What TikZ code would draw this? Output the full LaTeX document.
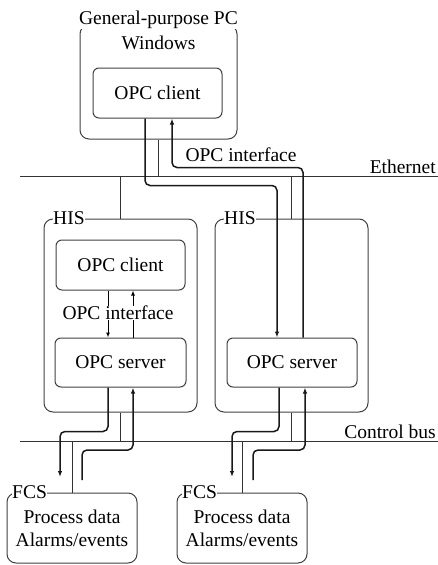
\documentclass[tikz,border=0pt]{standalone}
\usepackage{fontspec}
\setmainfont{Liberation Serif}
\usetikzlibrary{arrows.meta, positioning, calc}

\begin{document}
\begin{tikzpicture}[x=1pt, y=-1pt, font=\fontsize{19.5}{23}\selectfont,
    outerbox/.style={draw=black!75, line width=1pt, rounded corners=9pt, inner sep=0pt},
    innerbox/.style={draw=black!75, line width=1pt, rounded corners=6pt, inner sep=0pt, align=center},
    tag/.style={fill=white, inner sep=0.5pt},
    flow/.style={line width=1.5pt, draw=black!90, rounded corners=5pt, -{Latex[length=6pt,width=4.5pt]}},
    link/.style={line width=1pt, -{Latex[length=5pt,width=4pt]}},
    bus/.style={line width=1pt, draw=black!80}]
    \useasboundingbox (0,0) rectangle (438,565);

    % boxes
    \node[outerbox, minimum width=157pt, minimum height=114pt] (pc) at (158.5,82) {};
    \node[innerbox, minimum width=129pt, minimum height=50pt] (pcclient) at (157.5,93) {OPC client};
    \node[tag, inner sep=0pt] (pctitle) at (158.5,20) {General-purpose PC};
    \node (pcos) at (158.5,43) {Windows};

    \node[outerbox, minimum width=153pt, minimum height=193pt] (his1) at (120.5,315.5) {};
    \node[innerbox, minimum width=129pt, minimum height=50pt] (his1client) at (120.5,265) {OPC client};
    \node[innerbox, minimum width=131pt, minimum height=49pt] (his1server) at (120.5,362.5) {OPC server};

    \node[outerbox, minimum width=153pt, minimum height=193pt] (his2) at (291.5,315.5) {};
    \node[innerbox, minimum width=130pt, minimum height=49pt] (his2server) at (292,362.5) {OPC server};

    \node[innerbox, rounded corners=9pt, minimum width=130pt, minimum height=70pt] (fcs1) at (72,528) {Process data\\Alarms/events};
    \node[innerbox, rounded corners=9pt, minimum width=130pt, minimum height=70pt] (fcs2) at (242,528) {Process data\\Alarms/events};

    % networks
    \coordinate (ethL) at (20,176);
    \coordinate (ethR) at (438,176);
    \coordinate (cbusL) at (20,441);
    \coordinate (cbusR) at (438,441);
    \draw[bus] (ethL) -- (ethR);
    \draw[bus] (cbusL) -- (cbusR);
    \node[anchor=south east, inner sep=2pt] (ethlabel) at (ethR) {Ethernet};
    \node[anchor=south east, inner sep=2pt] (cbuslabel) at (cbusR) {Control bus};

    \draw[bus] (pc.south) -- (pc.south |- ethL);
    \draw[bus] (his1.north) -- (his1.north |- ethL);
    \draw[bus] (his2.north) -- (his2.north |- ethL);
    \draw[bus] (his1.south) -- (his1.south |- cbusL);
    \draw[bus] (his2.south) -- (his2.south |- cbusL);
    \draw[bus] (fcs1.north) -- (fcs1.north |- cbusL);
    \draw[bus] (fcs2.north) -- (fcs2.north |- cbusL);

    % data flows
    \draw[flow] ([xshift=-12.5pt]pcclient.south) -- ++(0,67) -| ([xshift=-15pt]his2server.north);
    \draw[flow] ([xshift=11pt]his2server.north) -- ++(0,-170) -| ([xshift=14.5pt]pcclient.south);
    \node (pciface) at (241,155) {OPC interface};

    \draw[link] ([xshift=-12.5pt]his1client.south) -- ([xshift=-12.5pt]his1server.north);
    \draw[link] ([xshift=12.5pt]his1server.north) -- ([xshift=12.5pt]his1client.south);
    \node[tag] (hisiface) at (118,313) {OPC interface};

    \coordinate (fcs1in) at (60,477);
    \coordinate (fcs1out) at (82,480);
    \coordinate (fcs2in) at (232,477);
    \coordinate (fcs2out) at (253,480);
    \draw[flow] ([xshift=-12.5pt]his1server.south) -- ++(0,44) -| (fcs1in);
    \draw[flow] (fcs1out) -- ++(0,-30) -| ([xshift=12.5pt]his1server.south);
    \draw[flow] ([xshift=-13pt]his2server.south) -- ++(0,44) -| (fcs2in);
    \draw[flow] (fcs2out) -- ++(0,-30) -| ([xshift=13pt]his2server.south);

    % tags on borders
    \node[tag, anchor=west] (his1tag) at ([xshift=9pt]his1.north west) {HIS};
    \node[tag, anchor=west] (his2tag) at ([xshift=9pt]his2.north west) {HIS};
    \node[tag, anchor=west] (fcs1tag) at ([xshift=5pt]fcs1.north west) {FCS};
    \node[tag, anchor=west] (fcs2tag) at ([xshift=5pt]fcs2.north west) {FCS};
\end{tikzpicture}
\end{document}
